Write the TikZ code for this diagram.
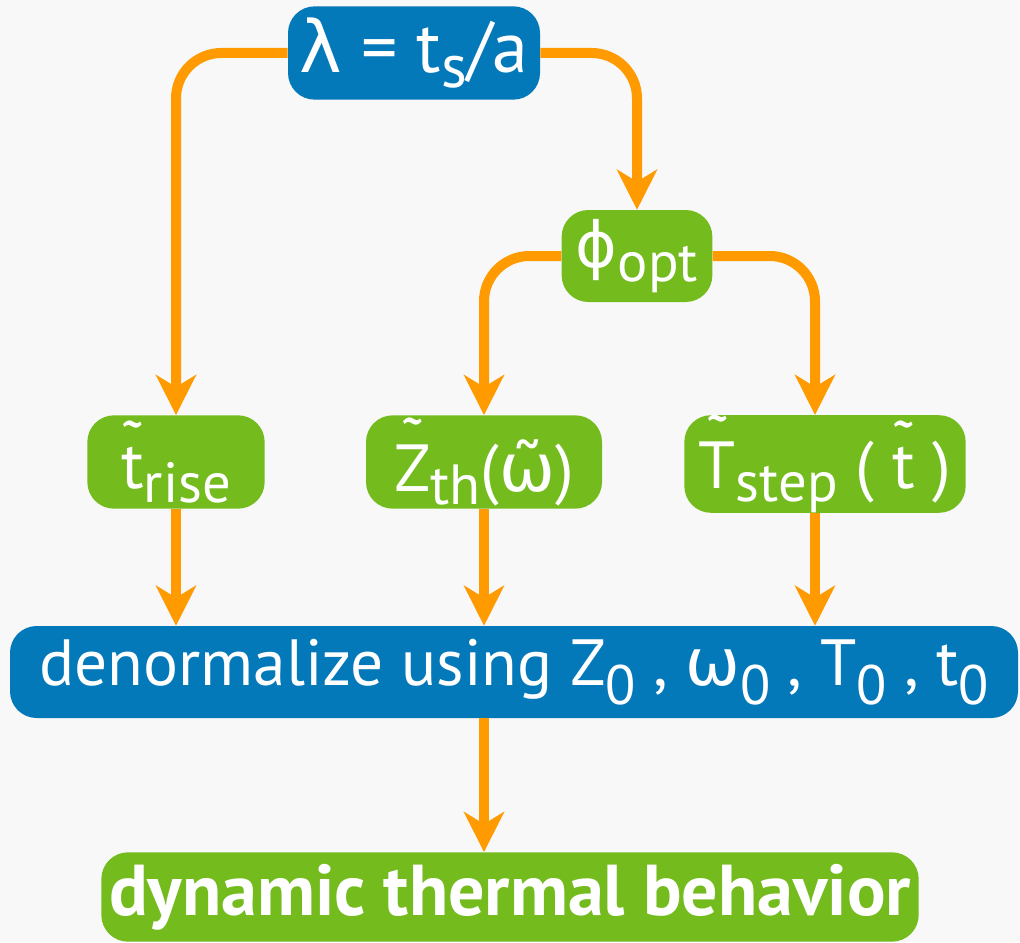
\documentclass[tikz,border=0pt]{standalone}
\usepackage{fontspec}
\setmainfont{PT Sans}
\newfontfamily\grk{DejaVu Sans}
\usetikzlibrary{arrows.meta}
\definecolor{boxblue}{HTML}{0479BA}
\definecolor{boxgreen}{HTML}{74BB1E}
\definecolor{flow}{HTML}{FF9A00}
\definecolor{paper}{HTML}{F8F8F8}
\newcommand{\lo}[2][0.2em]{\raisebox{-#1}{\scalebox{0.85}{#2}}}
% tilde set above a letter (PT Sans has no combining tilde)
\newcommand{\tildeover}[1]{\leavevmode\setbox0\hbox{#1}%
    \rlap{\hbox to\wd0{\hss\raisebox{\dimexpr\ht0-0.32em\relax}{˜}\hss}}\box0}

\begin{document}
\begin{tikzpicture}[x=0.75pt,y=-0.75pt,
        every node/.style={text=white,inner sep=0pt,rounded corners=20pt,font=\fontsize{50}{54}\selectfont},
        bluebox/.style={fill=boxblue},
        greenbox/.style={fill=boxgreen},
        link/.style={draw=flow,line width=7.5pt,rounded corners=34pt,-{Stealth[length=30pt,width=30pt,inset=9pt]}}]

    \fill[paper] (0,0) rectangle (1020,942);

    \node[bluebox,minimum width=189pt,minimum height=70pt,font=\fontsize{54}{58}\selectfont] (lam) at (414,53) {{\grk λ} = t\lo{s}/a};
    \node[greenbox,minimum width=113pt,minimum height=69pt] (phi) at (637,256) {{\grk\scalebox{0.95}{ϕ}}\lo{opt}};
    \node[greenbox,minimum width=133pt,minimum height=70pt] (trise) at (176,462) {\tildeover{t}\lo{rise}};
    \node[greenbox,minimum width=177pt,minimum height=70pt] (zth) at (484,462) {\tildeover{Z}\lo{th}({\grk\~{ω}})};
    \node[greenbox,minimum width=211pt,minimum height=70pt] (tstep) at (825,464) {\tildeover{T}\lo{step} ( \tildeover{t}\ )};
    \node[bluebox,minimum width=756pt,minimum height=69pt,font=\fontsize{49}{53}\selectfont] (denorm) at (514,672)
        {denormalize using Z\lo[0.3em]{0} , {\grk ω}\lo[0.3em]{0} , T\lo[0.3em]{0} , t\lo[0.3em]{0}};
    \node[greenbox,minimum width=613pt,minimum height=67pt,font=\fontsize{54}{58}\selectfont\bfseries] (dyn) at (510,897) {dynamic thermal behavior};

    \coordinate (stepcol) at (815,464);

    \draw[link] (lam.west) -| (trise.north);
    \draw[link] (lam.east) -| (phi.north);
    \draw[link] (phi.west) -| (zth.north);
    \draw[link] (phi.east) -| (stepcol |- tstep.north);
    \draw[link] (trise.south) -- (trise.south |- denorm.north);
    \draw[link] (zth.south) -- (zth.south |- denorm.north);
    \draw[link] (stepcol |- tstep.south) -- (stepcol |- denorm.north);
    \draw[link] (zth.south |- denorm.south) -- (zth.south |- dyn.north);
\end{tikzpicture}
\end{document}
